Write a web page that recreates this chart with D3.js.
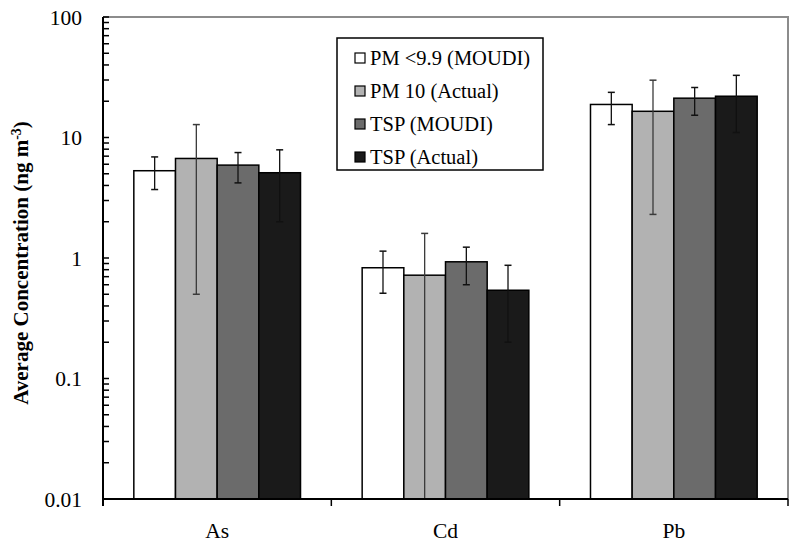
<!DOCTYPE html>
<html>
<head>
<meta charset="utf-8">
<script src="https://d3js.org/d3.v7.min.js"></script>
<style>
  body { margin: 0; background: #fff; }
  svg text { font-family: "Liberation Serif", "Times New Roman", serif; fill: #000; }
</style>
</head>
<body>
<div id="chart"></div>
<script>
// Data (ng m-3)
const elements = ["As", "Cd", "Pb"];
const seriesNames = ["PM <9.9 (MOUDI)", "PM 10 (Actual)", "TSP (MOUDI)", "TSP (Actual)"];
const seriesColors = ["#ffffff", "#b2b2b2", "#6b6b6b", "#1a1a1a"];

const meanValues = [
  [5.3, 0.83, 18.8],   // PM <9.9 (MOUDI)
  [6.7, 0.72, 16.5],   // PM 10 (Actual)
  [5.9, 0.93, 21.2],   // TSP (MOUDI)
  [5.1, 0.54, 22.0]    // TSP (Actual)
];
const upperValues = [
  [6.9, 1.14, 23.7],
  [12.8, 1.6, 29.9],
  [7.5, 1.23, 26.0],
  [7.9, 0.87, 32.8]
];
const lowerValues = [
  [3.7, 0.51, 12.8],
  [0.5, 0.001, 2.3],
  [4.2, 0.6, 15.3],
  [2.0, 0.2, 11.0]
];

const yTicks = [0.01, 0.1, 1, 10, 100];

const width = 800, height = 555;
const margin = { top: 17, right: 12, bottom: 56, left: 103 };
const innerW = width - margin.left - margin.right;
const innerH = height - margin.top - margin.bottom;

const svg = d3.select("#chart").append("svg")
  .attr("width", width)
  .attr("height", height);

const g = svg.append("g")
  .attr("transform", `translate(${margin.left},${margin.top})`);

const x0 = d3.scaleBand().domain(elements).range([0, innerW]);
const x1 = d3.scaleBand().domain(d3.range(seriesNames.length))
  .range([0, x0.bandwidth() * 0.73]);
const groupOffset = (x0.bandwidth() - x1.range()[1]) / 2;

const y = d3.scaleLog().domain([0.01, 100]).range([innerH, 0]);

// clip for error bars running below the axis
g.append("clipPath").attr("id", "plotclip")
  .append("rect").attr("width", innerW).attr("height", innerH);

// top / right border (grey)
g.append("path")
  .attr("d", `M0,0H${innerW}V${innerH}`)
  .attr("fill", "none")
  .attr("stroke", "#8c8c8c")
  .attr("stroke-width", 2);

// bars
const rows = [];
seriesNames.forEach((s, si) => {
  elements.forEach((e, ei) => {
    rows.push({ si, e, v: meanValues[si][ei], hi: upperValues[si][ei], lo: lowerValues[si][ei] });
  });
});

g.selectAll("rect.bar")
  .data(rows)
  .enter().append("rect")
  .attr("class", "bar")
  .attr("x", d => x0(d.e) + groupOffset + x1(d.si))
  .attr("width", x1.bandwidth())
  .attr("y", d => y(d.v))
  .attr("height", d => innerH - y(d.v))
  .attr("fill", d => seriesColors[d.si])
  .attr("stroke", "#000")
  .attr("stroke-width", 1.5);

// error bars
const eb = g.append("g").attr("clip-path", "url(#plotclip)");
const capW = 3.5;
rows.forEach(d => {
  const cx = x0(d.e) + groupOffset + x1(d.si) + x1.bandwidth() / 2;
  const col = d.si === 1 ? "#3a3a3a" : "#111";
  eb.append("line")
    .attr("x1", cx).attr("x2", cx)
    .attr("y1", y(d.hi)).attr("y2", y(d.lo))
    .attr("stroke", col).attr("stroke-width", 1.3);
  [d.hi, d.lo].forEach(v => {
    eb.append("line")
      .attr("x1", cx - capW).attr("x2", cx + capW)
      .attr("y1", y(v)).attr("y2", y(v))
      .attr("stroke", col).attr("stroke-width", 1.5);
  });
});

// y axis: line, inside ticks (major + minor), labels
const yAxisG = g.append("g");
yAxisG.append("line")
  .attr("x1", 0).attr("x2", 0)
  .attr("y1", 0).attr("y2", innerH + 7)
  .attr("stroke", "#000").attr("stroke-width", 2);

const minorTicks = [];
for (let p = -2; p < 2; p++) {
  for (let m = 1; m <= 9; m++) minorTicks.push(m * Math.pow(10, p));
}
minorTicks.push(100);
yAxisG.selectAll("line.tick")
  .data(minorTicks)
  .enter().append("line")
  .attr("x1", 0).attr("x2", 6)
  .attr("y1", d => y(d)).attr("y2", d => y(d))
  .attr("stroke", "#000").attr("stroke-width", 1.5);

yAxisG.selectAll("text")
  .data(yTicks)
  .enter().append("text")
  .attr("x", -21)
  .attr("y", d => y(d))
  .attr("dy", "0.35em")
  .attr("text-anchor", "end")
  .style("font-size", "21.5px")
  .text(d => d3.format("~g")(d));

// x axis
const xAxisG = g.append("g").attr("transform", `translate(0,${innerH})`);
xAxisG.append("line")
  .attr("x1", 0).attr("x2", innerW)
  .attr("stroke", "#000").attr("stroke-width", 2);
xAxisG.selectAll("line.sep")
  .data(elements)
  .enter().append("line")
  .attr("x1", d => x0(d) + x0.bandwidth())
  .attr("x2", d => x0(d) + x0.bandwidth())
  .attr("y1", 0).attr("y2", 7)
  .attr("stroke", "#000").attr("stroke-width", 1.5);
xAxisG.selectAll("text")
  .data(elements)
  .enter().append("text")
  .attr("x", d => x0(d) + x0.bandwidth() / 2)
  .attr("y", 39)
  .attr("text-anchor", "middle")
  .style("font-size", "21.5px")
  .text(d => d);

// y axis title
const yTitle = svg.append("text")
  .attr("transform", `translate(28,263) rotate(-90)`)
  .attr("text-anchor", "middle")
  .style("font-size", "21px")
  .style("font-weight", "bold");
yTitle.append("tspan").text("Average Concentration (ng m");
yTitle.append("tspan").attr("dy", -7).style("font-size", "14px").text("-3");
yTitle.append("tspan").attr("dy", 7).text(")");

// legend
const legend = svg.append("g").attr("transform", "translate(337,38)");
legend.append("rect")
  .attr("width", 206).attr("height", 132)
  .attr("fill", "#fff")
  .attr("stroke", "#000").attr("stroke-width", 1.5);
const items = legend.selectAll("g.item")
  .data(seriesNames)
  .enter().append("g")
  .attr("transform", (d, i) => `translate(18,${20 + i * 33})`);
items.append("rect")
  .attr("x", 0).attr("y", -5)
  .attr("width", 10).attr("height", 10)
  .attr("fill", (d, i) => seriesColors[i])
  .attr("stroke", "#000").attr("stroke-width", 1.2);
items.append("text")
  .attr("x", 15)
  .attr("dy", "0.35em")
  .style("font-size", "20.5px")
  .text(d => d);
</script>
</body>
</html>
